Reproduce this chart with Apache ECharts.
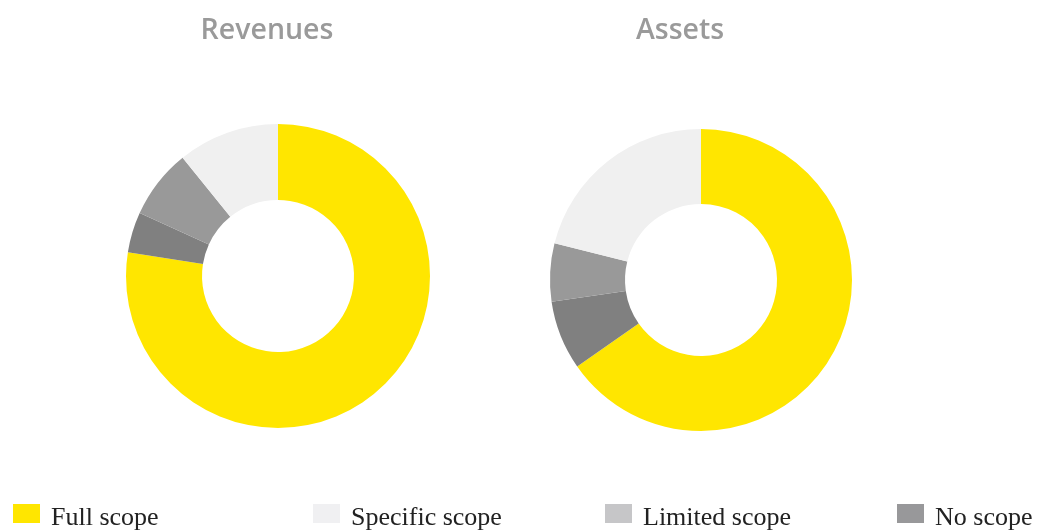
<!DOCTYPE html>
<html>
<head>
<meta charset="utf-8">
<script src="https://cdn.jsdelivr.net/npm/echarts@6/dist/echarts.min.js"></script>
<style>
  html, body { margin: 0; padding: 0; background: #fff; }
  #scope { width: 1042px; height: 530px; }
</style>
</head>
<body>
<div id="scope"></div>
<script>
var scopeObj = document.getElementById('scope');
var scopeChart = echarts.init(scopeObj);

// 图例顺序 / legend order
var categories = ['Full scope', 'Specific scope', 'Limited scope', 'No scope'];
// 圆环内的顺序 (顺时针, 从12点开始)
var sliceOrder = ['Full scope', 'No scope', 'Limited scope', 'Specific scope'];
var revenuesValues = [77.5, 4.3, 7.4, 10.8];
var assetsValues = [65.3, 7.4, 6.2, 21.1];
var chartTitles = ['Revenues', 'Assets'];

var sliceColors = {
    'Full scope': '#FFE600',
    'Specific scope': '#F0F0F0',
    'Limited scope': '#999999',
    'No scope': '#808080'
};
var legendColors = {
    'Full scope': '#FFE600',
    'Specific scope': '#F0F0F2',
    'Limited scope': '#C6C6C8',
    'No scope': '#98989A'
};
var legendLeft = [13, 313, 605, 897];

function buildData(values) {
    return sliceOrder.map(function (name, i) {
        return { name: name, value: values[i], itemStyle: { color: sliceColors[name] } };
    });
}

function makePie(name, values, center, radius) {
    return {
        name: name,
        type: 'pie',
        center: center,
        radius: radius,
        startAngle: 90,
        clockwise: true,
        avoidLabelOverlap: false,
        silent: true,
        label: { show: false },
        labelLine: { show: false },
        itemStyle: { borderWidth: 0 },
        data: buildData(values)
    };
}

var legends = categories.map(function (name, i) {
    return {
        left: legendLeft[i],
        top: 504,
        padding: 0,
        icon: 'rect',
        itemWidth: 27,
        itemHeight: 19,
        itemGap: 0,
        selectedMode: false,
        formatter: '{t|{name}}',
        textStyle: {
            rich: {
                t: {
                    fontFamily: 'Liberation Serif',
                    fontSize: 26,
                    color: '#222222',
                    padding: [10, 0, 0, 6]
                }
            }
        },
        data: [{ name: name, itemStyle: { color: legendColors[name] } }]
    };
});

var titleStyle = { fontFamily: 'Open Sans', fontWeight: 600, fontSize: 28.5, color: '#9A9A9A' };

var scopeOption = {
    animation: false,
    title: [
        { text: chartTitles[0], left: 267, top: 16, padding: 0, textAlign: 'center', textStyle: titleStyle },
        { text: chartTitles[1], left: 680, top: 16, padding: 0, textAlign: 'center', textStyle: titleStyle }
    ],
    legend: legends,
    series: [
        makePie(chartTitles[0], revenuesValues, [278, 276], [76, 152]),
        makePie(chartTitles[1], assetsValues, [701, 280], [76, 151])
    ]
};
scopeChart.setOption(scopeOption);
</script>
</body>
</html>
